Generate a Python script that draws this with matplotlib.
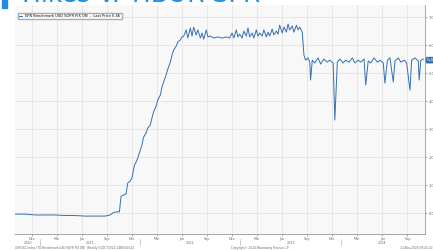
import matplotlib
matplotlib.use("Agg")
import matplotlib.pyplot as plt
from matplotlib.ticker import MultipleLocator, FixedLocator

# months since 1 Oct 2020, and rate level
months = [0.0, 1.2, 2.4, 3.6, 4.8, 6.0, 7.2, 8.4, 9.6, 10.8, 11.4, 11.7, 12.1, 12.5,
          12.7, 13.0, 13.3, 13.5, 13.8, 14.0, 14.3, 14.5, 14.7, 15.0, 15.2, 15.4,
          15.7, 15.9, 16.2, 16.4, 16.6, 16.9, 17.1, 17.4, 17.6, 17.8, 18.1, 18.3,
          18.6, 18.8, 19.0, 19.3, 19.5, 19.8, 20.0, 20.2,
          20.5, 20.7, 21.0, 21.2, 21.4, 21.7, 21.9, 22.2, 22.4, 22.6, 22.9, 23.1,
          23.4, 23.8, 24.3, 24.8, 25.3, 25.7, 26.0, 26.2, 26.5, 26.7, 26.9, 27.2,
          27.4, 27.7, 27.9, 28.1, 28.4, 28.6, 28.9, 29.1, 29.3, 29.6, 29.8, 30.1,
          30.3, 30.5, 30.8, 31.0, 31.3, 31.5, 31.7, 32.0, 32.2, 32.5, 32.7, 32.9,
          33.2, 33.4, 33.7, 33.9, 34.1, 34.4,
          34.6, 34.8, 35.1, 35.3, 35.4, 35.6, 35.9, 36.3, 36.6, 37.0, 37.4, 37.7,
          38.1, 38.3, 38.6, 38.9, 39.3, 39.6, 40.0, 40.4, 40.7, 41.1, 41.4, 41.8,
          42.0, 42.3, 42.6, 43.0, 43.4, 43.7, 44.1, 44.3, 44.6, 44.9, 45.3, 45.5,
          45.9, 46.2, 46.6, 46.9, 47.3, 47.5, 47.9, 48.3, 48.4, 48.6, 48.9]
rate = [-0.04, -0.04, -0.07, -0.07, -0.07, -0.09, -0.09, -0.11, -0.11, -0.11, -0.07, 0.0, 0.04, 0.04,
        0.60, 0.64, 0.68, 1.07, 1.14, 1.25, 1.71, 1.82, 1.96, 2.25, 2.43, 2.71,
        2.86, 3.04, 3.14, 3.39, 3.61, 3.82, 4.04, 4.21, 4.50, 4.68, 4.93, 5.14,
        5.39, 5.64, 5.82, 5.96, 6.11, 6.18, 6.29, 6.32,
        6.54, 6.25, 6.61, 6.32, 6.64, 6.36, 6.54, 6.25, 6.43, 6.21, 6.54, 6.29,
        6.32, 6.25, 6.29, 6.25, 6.29, 6.25, 6.43, 6.25, 6.54, 6.29, 6.39, 6.25,
        6.50, 6.32, 6.61, 6.29, 6.43, 6.25, 6.54, 6.32, 6.43, 6.32, 6.54, 6.29,
        6.46, 6.32, 6.57, 6.36, 6.50, 6.39, 6.71, 6.43, 6.64, 6.46, 6.75, 6.54,
        6.68, 6.46, 6.71, 6.54, 6.64, 6.46,
        5.64, 5.46, 5.54, 5.39, 4.75, 5.46, 5.36, 5.54, 5.32, 5.50, 5.39, 5.46,
        5.36, 3.32, 5.39, 5.50, 5.36, 5.46, 5.39, 5.54, 5.36, 5.46, 5.39, 5.50,
        4.57, 5.43, 5.36, 5.54, 5.39, 5.46, 5.36, 4.64, 5.46, 5.54, 4.68, 5.43,
        5.54, 5.39, 5.46, 5.36, 4.39, 5.46, 5.54, 5.43, 4.75, 5.46, 5.50]

quarter_pos = [2, 5, 8, 11, 14, 17, 20, 23, 26, 29, 32, 35, 38, 41, 44, 47]
quarter_lab = ["Dec", "Mar", "Jun", "Sep"] * 4
years = ["2020", "2021", "2022", "2023", "2024"]
year_mid = [1.5, 9, 21, 33, 44]
year_start = [3, 15, 27, 39]
last_price = 5.46

blue = "#3570b0"
grey = "#666666"

fig = plt.figure(figsize=(4.33, 2.5), dpi=100)
ax = fig.add_axes([15 / 433, 16 / 250, 410 / 433, 229 / 250])
ax.set_facecolor("#f8f8f8")

ax.plot(months, rate, color=blue, lw=0.7)

ax.set_xlim(0, 49.1)
ax.set_ylim(-0.75, 7.43)

ax.xaxis.set_major_locator(FixedLocator(quarter_pos))
ax.xaxis.set_minor_locator(MultipleLocator(1))
ax.set_xticklabels(quarter_lab)
ax.yaxis.set_major_locator(MultipleLocator(1))
ax.yaxis.tick_right()
ax.set_yticklabels([f"{v:.2f}" for v in ax.get_yticks()])

ax.grid(True, which="major", color="#e4e4e4", lw=0.6)
ax.tick_params(axis="x", which="major", labelsize=2.4, colors=grey, length=1.5, width=0.4, pad=0.6)
ax.tick_params(axis="x", which="minor", length=1, width=0.3, colors=grey)
ax.tick_params(axis="y", labelsize=2.6, colors=grey, length=1.5, width=0.4, pad=1)
for side in ["top", "left"]:
    ax.spines[side].set_visible(False)
for side in ["bottom", "right"]:
    ax.spines[side].set_color("#999999")
    ax.spines[side].set_linewidth(0.6)

# year labels and separators under the month labels
for y, m in zip(years, year_mid):
    ax.text(m, -0.04, y, transform=ax.get_xaxis_transform(), ha="center", va="center",
            fontsize=2.4, color=grey)
for m in year_start:
    ax.plot([m, m], [-0.02, -0.05], transform=ax.get_xaxis_transform(), color="#aaaaaa",
            lw=0.4, clip_on=False)

# last price tag on the right axis
ax.annotate(f"{last_price:.2f}", xy=(1.0, last_price), xycoords=("axes fraction", "data"),
            xytext=(1.5, 0), textcoords="offset points", ha="left", va="center",
            fontsize=3.2, color="white",
            bbox=dict(boxstyle="round,pad=0.3", fc=blue, ec="none"))

# legend box
ax.legend(["EFN Benchmark USD SOFR FIX ON  -  Last Price 5.46"], loc="upper left",
          fontsize=2.6, frameon=True, fancybox=False, edgecolor="#999999",
          handlelength=0.8, handleheight=0.6, borderpad=0.4,
          bbox_to_anchor=(0.003, 0.975))

# cut-off slide title at the very top
fig.text(22 / 433, 1.02, "Hikes V. TIBOR SFR", ha="left", va="center", fontsize=18,
         color="#1e90e0")
fig.patches.append(plt.Rectangle((2 / 433, 0.97), 5 / 433, 0.05, transform=fig.transFigure,
                                 color="#1e90e0"))

# footer
fig.text(15 / 433, 0.001, "USFOSC Index (TD Benchmark USD SOFR FIX ON)  Weekly 01OCT2020-14NOV2024",
         fontsize=2.1, color=grey, ha="left", va="bottom")
fig.text(0.6, 0.001, "Copyright\u00a9 2024 Bloomberg Finance L.P.", fontsize=2.1, color=grey,
         ha="center", va="bottom")
fig.text(0.998, 0.001, "14-Nov-2024 09:41:22", fontsize=2.1, color=grey, ha="right", va="bottom")

fig.savefig("out.png", dpi=100, facecolor="white")
